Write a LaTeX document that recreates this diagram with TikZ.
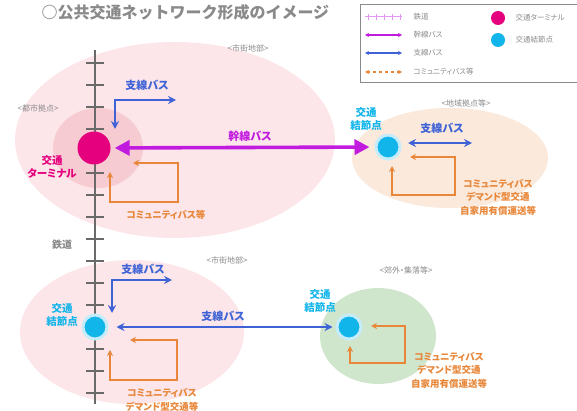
\documentclass[tikz,border=0pt]{standalone}
\usepackage{fontspec}
\newfontfamily\jp{Noto Sans CJK JP}
\newfontfamily\jpp[RawFeature=+palt]{Noto Sans CJK JP}
\usetikzlibrary{arrows.meta,patterns}
\definecolor{kansenc}{HTML}{C21BE0}
\definecolor{shisenc}{HTML}{3F63D6}
\definecolor{commc}{HTML}{E8873A}
\definecolor{termc}{HTML}{E5007E}
\definecolor{hubc}{HTML}{12B5EA}
\definecolor{pinkbg}{HTML}{FCE6EA}
\definecolor{pinkhub}{HTML}{F6CBD1}
\definecolor{peachbg}{HTML}{FCEBDD}
\definecolor{greenbg}{HTML}{CFE6CC}
\definecolor{railc}{HTML}{6A6A6A}
\definecolor{tagc}{HTML}{8A8A8A}

\begin{document}
\begin{tikzpicture}[x=1pt, y=-1pt, line join=miter,
  busK/.style={draw=kansenc, line width=3.6pt,
    {Triangle[length=15pt,width=15pt]}-{Triangle[length=15pt,width=15pt]}},
  busS/.style={draw=shisenc, line width=2pt,
    {Stealth[length=8pt,width=8pt]}-{Stealth[length=8pt,width=8pt]}},
  busC/.style={draw=commc, line width=1.6pt,
    {Stealth[length=6pt,width=6pt]}-{Stealth[length=6pt,width=6pt]}},
  tag/.style={font=\jpp\fontsize{8}{9}\selectfont, text=tagc},
  lgd/.style={font=\jpp\fontsize{7.5}{9}\selectfont, text=tagc, anchor=west},
  lblS/.style={font=\jpp\bfseries\fontsize{11}{12}\selectfont, text=shisenc},
  lblC/.style={font=\jpp\bfseries\fontsize{9.5}{13.5}\selectfont, text=commc, align=center},
  lblH/.style={font=\jpp\bfseries\fontsize{10.5}{13}\selectfont, text=hubc, align=center},
  hub/.style={circle, fill=hubc, draw=hubc!25, line width=3pt, inner sep=0pt, minimum size=24pt}]
\useasboundingbox (0,0) rectangle (577,411);

% title
\node[anchor=west, font=\jp\bfseries\fontsize{16}{18}\selectfont, text=tagc] (title) at (38,12) {○公共交通ネットワーク形成のイメージ};

% legend
\draw[tagc, line width=1pt] (360,5) rectangle (600,83);
\draw[kansenc!45, line width=1pt] (365,17) -- (402,17);
\foreach \x in {368,376,384,392,400}
  \draw[kansenc!45, line width=0.8pt] (\x,14) -- (\x,20);
\node[lgd] (lgRail) at (410,17) {鉄道};
\draw[kansenc, line width=1.8pt, {Stealth[length=4pt,width=4pt]}-{Stealth[length=4pt,width=4pt]}] (365,35) -- (402,35);
\node[lgd] (lgK) at (410,35) {幹線バス};
\draw[shisenc, line width=1.2pt, {Stealth[length=4pt,width=4pt]}-{Stealth[length=4pt,width=4pt]}] (365,53) -- (402,53);
\node[lgd] (lgS) at (410,53) {支線バス};
\draw[commc, line width=1.2pt, dashed, {Stealth[length=4pt,width=4pt]}-{Stealth[length=4pt,width=4pt]}] (365,72) -- (402,72);
\node[lgd] (lgC) at (410,72) {コミュニティバス等};
\fill[termc] (498,18) circle (7);
\node[lgd] (lgT) at (512,18) {交通ターミナル};
\fill[hubc] (498,40) circle (7);
\node[lgd] (lgH) at (512,40) {交通結節点};

% areas
\fill[pinkbg] (175,140) ellipse [x radius=160, y radius=98];
\fill[pinkbg] (132,332) ellipse [x radius=112, y radius=72];
\fill[peachbg] (450,158) ellipse [x radius=98, y radius=50];
\fill[pattern=crosshatch, pattern color=commc!18] (450,158) ellipse [x radius=98, y radius=50];
\fill[greenbg] (378,336) ellipse [x radius=58, y radius=48];
\fill[pinkhub] (98,148) ellipse [x radius=45, y radius=40];

\node[tag] (tagCityT) at (248,48) {<市街地部>};
\node[tag] (tagCore) at (38,108) {<都市拠点>};
\node[tag] (tagLocal) at (466,103) {<地域拠点等>};
\node[tag] (tagCityB) at (227,260) {<市街地部>};
\node[tag] (tagRural) at (406,270) {<郊外・集落等>};

% railway
\draw[railc, line width=2.6pt] (95,50) -- (95,404);
\foreach \k in {0,...,15}
  \draw[railc, line width=2pt] (86,63+22*\k) -- (104,63+22*\k);
\node[font=\jp\bfseries\fontsize{10}{12}\selectfont, text=tagc] (railLbl) at (62,245) {鉄道};

% nodes
\node[circle, fill=termc, inner sep=0pt, minimum size=33pt] (term) at (94,148) {};
\node[hub] (hubR) at (388,147) {};
\node[hub] (hubBL) at (95,327) {};
\node[hub] (hubBR) at (349,327) {};

\node[font=\jpp\bfseries\fontsize{10.5}{13}\selectfont, text=termc, align=center] (termLbl) at (52,167) {交通\\ターミナル};
\node[lblH] (hubRLbl) at (366,119) {交通\\結節点};
\node[lblH] (hubBLLbl) at (62,315) {交通\\結節点};
\node[lblH] (hubBRLbl) at (320,301) {交通\\結節点};

% trunk bus
\draw[busK, shorten <=4pt, shorten >=5pt] (term) -- (hubR);
\node[font=\jpp\bfseries\fontsize{11}{12}\selectfont, text=kansenc] (kLbl) at (250,136) {幹線バス};

% feeder buses
\draw[busS] (115,129) -- (115,100) -- (176,100);
\node[lblS] (sLbl1) at (147,85) {支線バス};
\draw[busS] (408,143) -- (472,143);
\node[lblS] (sLbl2) at (442,128) {支線バス};
\draw[busS] (112,313) -- (112,280) -- (172,280);
\node[lblS] (sLbl3) at (143,269) {支線バス};
\draw[busS, shorten <=8pt, shorten >=3pt] (hubBL) -- (hubBR);
\node[lblS] (sLbl4) at (223,316) {支線バス};

% community buses
\draw[busC] (133,163) -- (178,163) -- (178,202) -- (110,202) -- (110,172);
\node[lblC] (cLbl1) at (166,215) {コミュニティバス等};
\draw[busC] (410,157) -- (455,157) -- (455,195) -- (392,195) -- (392,166);
\node[lblC] (cLbl2) at (498,197) {コミュニティバス\\デマンド型交通\\自家用有償運送等};
\draw[busC] (130,340) -- (177,340) -- (177,380) -- (110,380) -- (110,350);
\node[lblC, anchor=north] (cLbl3) at (162,385) {コミュニティバス\\デマンド型交通等};
\draw[busC] (371,326) -- (405,326) -- (405,363) -- (350,363) -- (350,346);
\node[lblC] (cLbl4) at (449,370) {コミュニティバス\\デマンド型交通\\自家用有償運送等};
\end{tikzpicture}
\end{document}
